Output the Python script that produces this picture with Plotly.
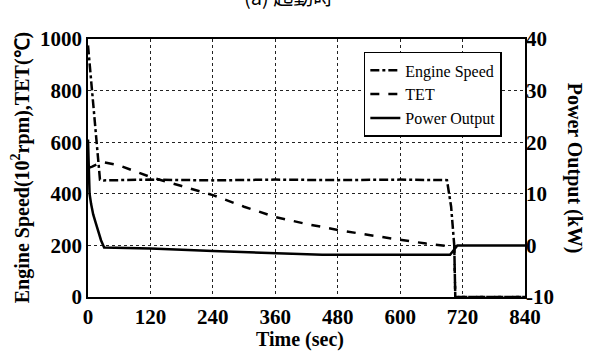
import plotly.graph_objects as go

# Data
time_speed = [0, 8, 16, 23, 30, 120, 240, 360, 480, 600, 690, 698, 704, 706, 840]
engine_speed = [975, 800, 620, 455, 452, 455, 452, 455, 453, 455, 453, 350, 200, 0, 0]

time_tet = [0, 8, 18, 30, 60, 120, 180, 240, 300, 360, 420, 480, 540, 600, 650, 700, 704, 706, 840]
tet = [500, 505, 515, 522, 510, 465, 430, 395, 350, 310, 283, 260, 240, 221, 207, 195, 195, 0, 0]

time_power = [0, 1, 3, 6, 10, 15, 20, 25, 31, 120, 240, 360, 450, 696, 710, 840]
power = [20.5, 14, 10, 8, 6, 4.3, 2.6, 1.0, -0.4, -0.6, -1.1, -1.5, -1.8, -1.8, 0, 0]

x_ticks = [0, 120, 240, 360, 480, 600, 720, 840]
y_ticks = [0, 200, 400, 600, 800, 1000]
y2_ticks = [-10, 0, 10, 20, 30, 40]

serif = "Liberation Serif, Times New Roman, serif"
tickfont = dict(family=serif, size=21, color="black")

fig = go.Figure()
fig.add_trace(go.Scatter(x=time_speed, y=engine_speed, name="Engine Speed", mode="lines",
                         line=dict(color="black", width=2.5, dash="dashdot")))
fig.add_trace(go.Scatter(x=time_tet, y=tet, name="TET", mode="lines",
                         line=dict(color="black", width=2.5, dash="dash")))
fig.add_trace(go.Scatter(x=time_power, y=power, name="Power Output", mode="lines", yaxis="y2",
                         line=dict(color="black", width=2.5)))

fig.update_layout(
    width=589, height=358,
    margin=dict(l=88, r=64, t=39, b=61),
    paper_bgcolor="white", plot_bgcolor="white",
    font=dict(family=serif, color="black"),
    showlegend=True,
    legend=dict(x=0.947, y=0.95, xanchor="right", yanchor="top",
                bgcolor="white", bordercolor="black", borderwidth=1.5,
                font=dict(family=serif, size=16, color="black"),
                tracegroupgap=0, itemwidth=30),
    xaxis=dict(range=[0, 840], tickvals=x_ticks, ticktext=[f"<b>{v}</b>" for v in x_ticks],
               showgrid=True, gridcolor="#222", griddash="dot", gridwidth=1,
               showline=True, linecolor="black", linewidth=1.5, mirror=True,
               ticks="", zeroline=False, tickfont=tickfont),
    yaxis=dict(range=[0, 1000], tickvals=y_ticks, ticktext=[f"<b>{v}</b>" for v in y_ticks],
               showgrid=True, gridcolor="#222", griddash="dot", gridwidth=1,
               showline=True, linecolor="black", linewidth=1.5, mirror=True,
               ticks="", zeroline=False, tickfont=tickfont),
    yaxis2=dict(range=[-10, 40], tickvals=y2_ticks, ticktext=[f"<b>{v}</b>" for v in y2_ticks],
                overlaying="y", side="right", showgrid=False, zeroline=False,
                ticks="", tickfont=tickfont),
)

fig.add_annotation(text="<b>Time (sec)</b>", xref="paper", yref="paper",
                   x=0.485, y=-0.165, xanchor="center", yanchor="middle", showarrow=False,
                   font=dict(family=serif, size=20, color="black"))
fig.add_annotation(text="<b>Engine Speed(10<sup>2</sup>rpm),TET(℃)</b>", xref="paper", yref="paper",
                   x=-0.155, y=0.5, xanchor="center", yanchor="middle", textangle=-90,
                   showarrow=False, font=dict(family=serif, size=20, color="black"))
fig.add_annotation(text="<b>Power Output (kW)</b>", xref="paper", yref="paper",
                   x=1.115, y=0.5, xanchor="center", yanchor="middle", textangle=90,
                   showarrow=False, font=dict(family=serif, size=20, color="black"))
fig.add_annotation(text="(a) 起動時", xref="paper", yref="paper",
                   x=0.458, y=1.163, xanchor="center", yanchor="middle",
                   showarrow=False, font=dict(family="Noto Sans CJK JP", size=20, color="black"))

fig.write_html("out.html")
